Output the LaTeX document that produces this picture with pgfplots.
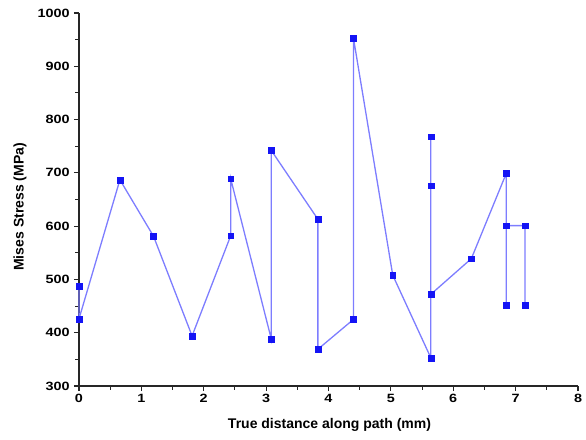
\documentclass[border=0pt]{standalone}
\usepackage{pgfplots}
\pgfplotsset{compat=1.18}
\usepackage{fontspec}
\setmainfont{Liberation Sans}
\definecolor{pathline}{RGB}{125,125,255}
\definecolor{markblue}{RGB}{20,20,245}
\begin{document}
\begin{tikzpicture}
\path[use as bounding box] (-79pt,-53pt) rectangle (507pt,386pt);
\begin{axis}[
  at={(0,0)}, anchor=south west,
  scale only axis, width=499pt, height=373pt,
  xmin=0, xmax=8, ymin=300, ymax=1000,
  axis lines=left,
  axis line style={-, line width=1.3pt, black!85},
  xtick={0,...,8}, ytick={300,400,...,1000},
  minor x tick num=1, minor y tick num=1,
  tick align=outside,
  major tick length=5pt, minor tick length=3.5pt,
  tick style={line width=1.1pt, black!85},
  tick label style={font=\bfseries\fontsize{12}{13}\selectfont, xscale=1.2},
  /pgf/number format/assume math mode=true,
  /pgf/number format/1000 sep={},
  xlabel={True distance along path (mm)},
  ylabel={Mises Stress (MPa)},
  label style={font=\bfseries\fontsize{14}{16}\selectfont},
  xlabel style={at={(axis description cs:0.502,-0.105)}, anchor=center},
  ylabel style={at={(axis description cs:-0.118,0.48)}, anchor=center, rotate=0},
  clip=false,
]
\addplot[color=pathline, line width=1.3pt,
  mark=square*, mark size=2.9pt,
  mark options={fill=markblue, draw=markblue, line width=0.3pt}]
  coordinates {
    (0.00,488) (0.00,426) (0.656,687) (1.195,581) (1.813,394)
    (2.432,582) (2.432,689) (3.083,388) (3.083,742) (3.83,613)
    (3.83,369) (4.40,425) (4.40,953) (5.03,508) (5.64,353)
    (5.64,768) (5.64,676) (5.64,472) (6.29,539) (6.85,699)
    (6.85,601) (6.85,452) (6.85,601) (7.15,601) (7.15,452)
  };
\end{axis}
\end{tikzpicture}
\end{document}
